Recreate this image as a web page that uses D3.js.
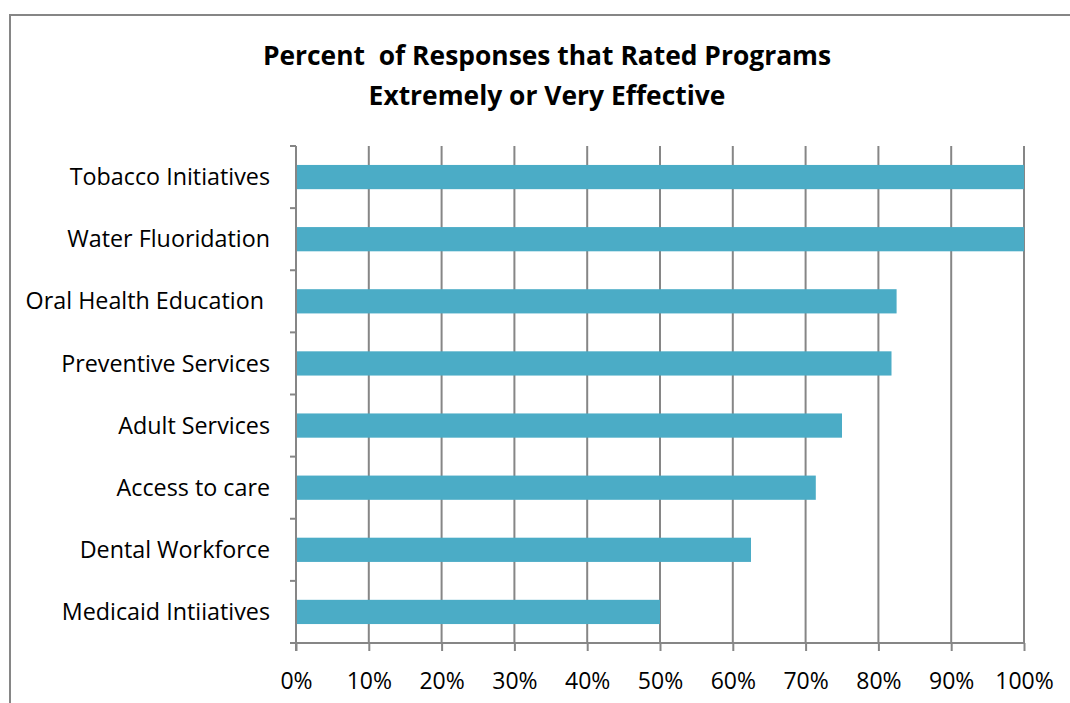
<!DOCTYPE html>
<html><head><meta charset="utf-8">
<script src="https://cdn.jsdelivr.net/npm/d3@7"></script>
<style>body{margin:0;background:#fff}svg{display:block}text{white-space:pre}</style>
</head><body>
<svg id="c" width="1070" height="703"></svg>
<script>
const categories = ["Tobacco Initiatives","Water Fluoridation","Oral Health Education ","Preventive Services","Adult Services","Access to care","Dental Workforce","Medicaid Intiiatives"];
const values = [100, 100, 82.5, 81.8, 75, 71.4, 62.5, 50];
const tickValues = [0,10,20,30,40,50,60,70,80,90,100];
const titleLines = ["Percent  of Responses that Rated Programs","Extremely or Very Effective"];

const svg = d3.select("#c");
const font = "'Open Sans', 'Liberation Sans', sans-serif";
const gray = "#868686";
svg.append("rect").attr("x",10).attr("y",15).attr("width",1080).attr("height",720)
  .attr("fill","#fff").attr("stroke",gray).attr("stroke-width",2);

const L=296, R=1024, T=146, B=643;
const x = d3.scaleLinear().domain([0,100]).range([L,R]);
const y = d3.scaleBand().domain(categories).range([T,B]).paddingInner(0.61).paddingOuter(0.305);

svg.append("text").attr("x",547).attr("y",65).attr("text-anchor","middle")
  .attr("font-family",font).attr("font-weight","bold").attr("font-size",26.4)
  .selectAll("tspan").data(titleLines).join("tspan")
  .attr("x",547).attr("dy",(d,i)=>i?40:0).text(d=>d);

// gridlines
svg.append("g").selectAll("line").data(tickValues.slice(1)).join("line")
  .attr("x1",d=>x(d)).attr("x2",d=>x(d)).attr("y1",T).attr("y2",B)
  .attr("stroke",gray).attr("stroke-width",2);

// bars
svg.append("g").selectAll("rect").data(values).join("rect")
  .attr("x",x(0)).attr("y",(d,i)=>y(categories[i]))
  .attr("width",d=>x(d)-x(0)).attr("height",y.bandwidth())
  .attr("fill","#4BACC6");

// x axis
const xAxis = d3.axisBottom(x).tickValues(tickValues).tickSize(8).tickFormat(d=>d+"%");
const gx = svg.append("g").attr("transform",`translate(0,${B})`).call(xAxis);
gx.select(".domain").attr("stroke",gray).attr("stroke-width",2).attr("d",`M${L},0H${R}`);
gx.selectAll(".tick line").attr("stroke",gray).attr("stroke-width",2);
gx.selectAll(".tick text").attr("font-family",font).attr("font-size",23).attr("fill","#000").attr("dy","1.5em");

// y axis: ticks at category boundaries
const bounds = d3.range(categories.length+1).map(i=>T+(B-T)*i/categories.length);
svg.append("line").attr("x1",L).attr("x2",L).attr("y1",T).attr("y2",B+8).attr("stroke",gray).attr("stroke-width",2);
svg.append("g").selectAll("line").data(bounds).join("line")
  .attr("x1",L-6).attr("x2",L).attr("y1",d=>d).attr("y2",d=>d).attr("stroke",gray).attr("stroke-width",2);
svg.append("g").selectAll("text").data(categories).join("text")
  .attr("x",270).attr("y",d=>y(d)+y.bandwidth()/2).attr("dy","0.35em")
  .attr("text-anchor","end").attr("font-family",font).attr("font-size",23.3).text(d=>d);
</script>
</body></html>
